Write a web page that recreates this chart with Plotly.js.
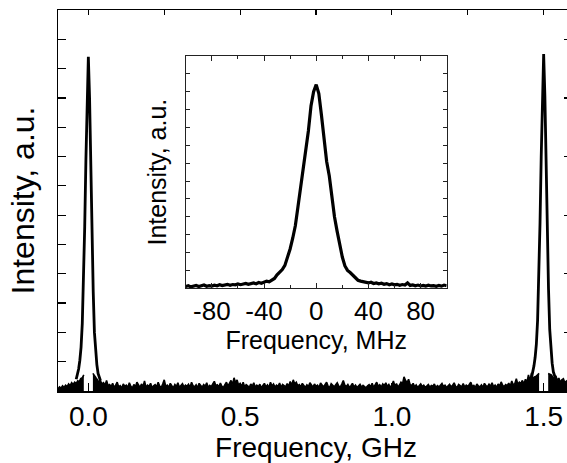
<!DOCTYPE html>
<html>
<head>
<meta charset="utf-8">
<script src="https://cdn.plot.ly/plotly-3.0.1.min.js"></script>
<style>
  html, body { margin: 0; padding: 0; overflow: hidden; background: #fff; }
  #chart { width: 574px; height: 463px; }
</style>
</head>
<body>
<div id="chart"></div>
<script>
// Main spectrum: two transmission peaks 1.5 GHz apart on a noisy baseline (GHz, a.u.)
const leftBaseStart = -0.1;
const baseStep = 0.005;
const leftBase = [0.08, 0.14, 0.10, 0.18, 0.12, 0.20, 0.15, 0.24, 0.18, 0.28, 0.22, 0.30, 0.26, 0.35, 0.32, 0.42,
                  0.45, 0.55];

const midBaseStart = 0.015;
const midBase = [
  0.60, 0.50,
  0.45, 0.38, 0.30, 0.34, 0.24, 0.28, 0.20, 0.36, 0.18, 0.22,
  0.15, 0.26, 0.12, 0.20, 0.30, 0.14, 0.18, 0.10, 0.24, 0.16,
  0.20, 0.12, 0.28, 0.16, 0.10, 0.22, 0.14, 0.30, 0.18, 0.12,
  0.24, 0.15, 0.34, 0.12, 0.20, 0.16, 0.26, 0.11, 0.18, 0.22,
  0.14, 0.30, 0.17, 0.12, 0.24, 0.38, 0.16, 0.20, 0.13, 0.26,
  0.18, 0.11, 0.22, 0.15, 0.28, 0.12, 0.19, 0.25, 0.14, 0.20,
  0.16, 0.23, 0.12, 0.30, 0.18, 0.14, 0.21, 0.11, 0.26, 0.17,
  0.13, 0.22, 0.16, 0.28, 0.12, 0.19, 0.15, 0.24, 0.33, 0.18,
  0.21, 0.14, 0.27, 0.16, 0.12, 0.22, 0.30, 0.17, 0.25, 0.36,
  0.22, 0.45, 0.28, 0.38, 0.20, 0.26, 0.16, 0.30, 0.14, 0.22,
  0.18, 0.12, 0.24, 0.16, 0.28, 0.13, 0.20, 0.15, 0.23, 0.11,
  0.19, 0.26, 0.14, 0.21, 0.12, 0.30, 0.17, 0.24, 0.13, 0.20,
  0.16, 0.27, 0.12, 0.22, 0.18, 0.14, 0.25, 0.16, 0.32, 0.20,
  0.38, 0.24, 0.30, 0.18, 0.22, 0.14, 0.26, 0.17, 0.12, 0.21,
  0.15, 0.28, 0.18, 0.13, 0.24, 0.16, 0.20, 0.12, 0.27, 0.19,
  0.14, 0.22, 0.30, 0.16, 0.12, 0.25, 0.18, 0.14, 0.21, 0.28,
  0.17, 0.13, 0.24, 0.36, 0.20, 0.15, 0.22, 0.12, 0.18, 0.26,
  0.14, 0.20, 0.12, 0.17, 0.23, 0.13, 0.19, 0.15, 0.11, 0.18,
  0.22, 0.14, 0.26, 0.12, 0.19, 0.30, 0.16, 0.21, 0.13, 0.24,
  0.18, 0.28, 0.15, 0.22, 0.12, 0.20, 0.34, 0.16, 0.25, 0.14,
  0.20, 0.30, 0.24, 0.48, 0.36, 0.28, 0.40, 0.22, 0.18, 0.26,
  0.14, 0.21, 0.12, 0.18, 0.24, 0.15, 0.20, 0.12, 0.17, 0.22,
  0.13, 0.19, 0.16, 0.24, 0.12, 0.18, 0.14, 0.21, 0.26, 0.15,
  0.20, 0.12, 0.17, 0.23, 0.14, 0.19, 0.28, 0.16, 0.12, 0.22,
  0.18, 0.14, 0.25, 0.13, 0.20, 0.16, 0.22, 0.30, 0.15, 0.19,
  0.12, 0.24, 0.17, 0.14, 0.21, 0.13, 0.26, 0.18, 0.15, 0.23,
  0.16, 0.28, 0.14, 0.20, 0.12, 0.24, 0.17, 0.31, 0.19, 0.15,
  0.22, 0.18, 0.27, 0.16, 0.34, 0.20, 0.25, 0.42, 0.22, 0.30,
  0.26, 0.36, 0.24, 0.40, 0.30, 0.55, 0.34, 0.62, 0.40, 0.48,
  0.50, 0.55, 0.60
];

const rightBaseStart = 1.515;
const rightBase = [0.60, 0.58, 0.55, 0.48, 0.40, 0.52, 0.36, 0.44, 0.30, 0.38, 0.42, 0.28, 0.34, 0.25, 0.32, 0.22, 0.28, 0.20];

// Peak profiles sampled every 4 MHz from -40 to +40 MHz around each centre
const peakStep = 0.004;
const peak1Start = -0.04;
const peak1 = [0.40, 0.55, 0.75, 1.05, 1.50, 2.30, 3.60, 5.60, 7.90, 10.30, 11.40,
               10.00, 7.40, 5.20, 3.40, 2.00, 1.30, 0.90, 0.60, 0.45, 0.35];
const peak2Start = 1.46;
const peak2 = [0.45, 0.62, 0.85, 1.15, 1.60, 2.40, 3.70, 5.70, 8.00, 10.40, 11.50,
               10.10, 7.50, 5.30, 3.50, 2.10, 1.35, 0.95, 0.65, 0.48, 0.40];

const mainTickVals = [0, 0.5, 1.0, 1.5];
const mainTickText = ['0.0', '0.5', '1.0', '1.5'];
const mainTopTicks = [0, 0.25, 0.5, 0.75, 1.0, 1.25, 1.5];

// Inset: single peak on a MHz scale, sampled every 2 MHz from -100 to +100
const insetStart = -100;
const insetStep = 2;
const insetIntensity = [
  0.10, 0.14, 0.08, 0.12, 0.16, 0.10, 0.13, 0.18, 0.11, 0.15,
  0.12, 0.17, 0.14, 0.20, 0.15, 0.18, 0.22, 0.17, 0.21, 0.19,
  0.24, 0.20, 0.23, 0.27, 0.22, 0.26, 0.30, 0.25, 0.32, 0.28,
  0.35, 0.40, 0.36, 0.48, 0.55, 0.75, 0.88, 1.05, 1.28, 1.70,
  2.20, 2.80, 3.50, 4.55, 5.55, 6.70, 7.80, 8.80, 10.20, 11.00,
  11.40,
  10.90, 9.70, 8.20, 7.10, 6.30, 5.00, 4.00, 3.20, 2.35, 1.75,
  1.25, 1.00, 0.88, 0.72, 0.55, 0.45, 0.40, 0.36, 0.33, 0.30,
  0.34, 0.27, 0.30, 0.25, 0.28, 0.22, 0.26, 0.20, 0.24, 0.19,
  0.22, 0.17, 0.21, 0.18, 0.30, 0.16, 0.19, 0.14, 0.18, 0.13,
  0.16, 0.12, 0.17, 0.13, 0.15, 0.11, 0.16, 0.12, 0.18, 0.14
];
const insetTickVals = [-80, -40, 0, 40, 80];
const insetTickText = ['-80', '-40', '0', '40', '80'];
const insetMinorTicks = [-60, -20, 20, 60];

const FONT = 'Liberation Sans, Arial, Helvetica, sans-serif';
const INK = '#000';

function baseTrace(y, start) {
  return {
    type: 'scatter', mode: 'lines', y: y, x0: start, dx: baseStep,
    line: { color: INK, width: 1.6 }, fill: 'tozeroy', fillcolor: INK,
    hoverinfo: 'skip', showlegend: false
  };
}
function peakTrace(y, start) {
  return {
    type: 'scatter', mode: 'lines', y: y, x0: start, dx: peakStep,
    line: { color: INK, width: 2.8 }, hoverinfo: 'skip', showlegend: false
  };
}

const data = [
  baseTrace(leftBase, leftBaseStart),
  baseTrace(midBase, midBaseStart),
  baseTrace(rightBase, rightBaseStart),
  peakTrace(peak1, peak1Start),
  peakTrace(peak2, peak2Start),
  // carrier for the top and right tick axes
  { type: 'scatter', mode: 'lines', x: [], y: [], xaxis: 'x2', yaxis: 'y2',
    hoverinfo: 'skip', showlegend: false },
  {
    type: 'scatter', mode: 'lines', y: insetIntensity, x0: insetStart, dx: insetStep,
    xaxis: 'x3', yaxis: 'y3', line: { color: INK, width: 3.2 },
    hoverinfo: 'skip', showlegend: false
  }
];

const inDomX = [0.2475, 0.7533];
const inDomY = [0.2696, 0.8793];

const layout = {
  width: 574, height: 463,
  margin: { l: 58, r: 0, t: 10, b: 72 },
  paper_bgcolor: '#fff', plot_bgcolor: '#fff',
  font: { family: FONT, color: INK },
  xaxis: {
    range: [-0.1, 1.6], showgrid: false, zeroline: false,
    showline: true, linecolor: INK, linewidth: 1.5,
    tickmode: 'array', tickvals: mainTickVals, ticktext: mainTickText,
    ticks: 'inside', ticklen: 8, tickwidth: 1.2, tickcolor: INK,
    tickfont: { size: 28, family: FONT },
    title: { text: 'Frequency, GHz', font: { size: 28, family: FONT }, standoff: 8 }
  },
  xaxis2: {
    overlaying: 'x', side: 'top', range: [-0.1, 1.6], showgrid: false, zeroline: false,
    showline: true, linecolor: INK, linewidth: 1.5,
    tickmode: 'array', tickvals: mainTopTicks, showticklabels: false,
    ticks: 'inside', ticklen: 5, tickwidth: 1.2, tickcolor: INK
  },
  yaxis: {
    range: [0, 13], showgrid: false, zeroline: false,
    showline: true, linecolor: INK, linewidth: 1.5,
    dtick: 1, tick0: 0, showticklabels: false,
    ticks: 'inside', ticklen: 8, tickwidth: 1.2, tickcolor: INK,
    title: { text: 'Intensity, a.u.', font: { size: 32, family: FONT }, standoff: 12 }
  },
  yaxis2: {
    overlaying: 'y', side: 'right', range: [0, 13], showgrid: false, zeroline: false,
    showline: true, linecolor: INK, linewidth: 1.5,
    dtick: 2, tick0: 0, showticklabels: false,
    ticks: 'inside', ticklen: 10, tickwidth: 1.2, tickcolor: INK
  },
  xaxis3: {
    domain: inDomX, anchor: 'y3', range: [-100, 100],
    showgrid: false, zeroline: false,
    showline: true, linecolor: '#222', linewidth: 1, mirror: 'ticks',
    tickmode: 'array', tickvals: insetTickVals, ticktext: insetTickText,
    ticks: 'inside', ticklen: 5, tickwidth: 1, tickcolor: '#222',
    minor: { tickmode: 'array', tickvals: insetMinorTicks, ticks: 'inside', ticklen: 3, tickcolor: '#222' },
    tickfont: { size: 26, family: FONT },
    title: { text: 'Frequency, MHz', font: { size: 25, family: FONT }, standoff: 2 }
  },
  yaxis3: {
    domain: inDomY, anchor: 'x3', range: [0, 13],
    showgrid: false, zeroline: false,
    showline: true, linecolor: '#222', linewidth: 1, mirror: 'ticks',
    dtick: 1, tick0: 0, showticklabels: false,
    ticks: 'inside', ticklen: 4, tickwidth: 1, tickcolor: '#222',
    title: { text: 'Intensity, a.u.', font: { size: 25, family: FONT }, standoff: 10 }
  }
};

Plotly.newPlot('chart', data, layout, { staticPlot: true, displayModeBar: false });
</script>
</body>
</html>
